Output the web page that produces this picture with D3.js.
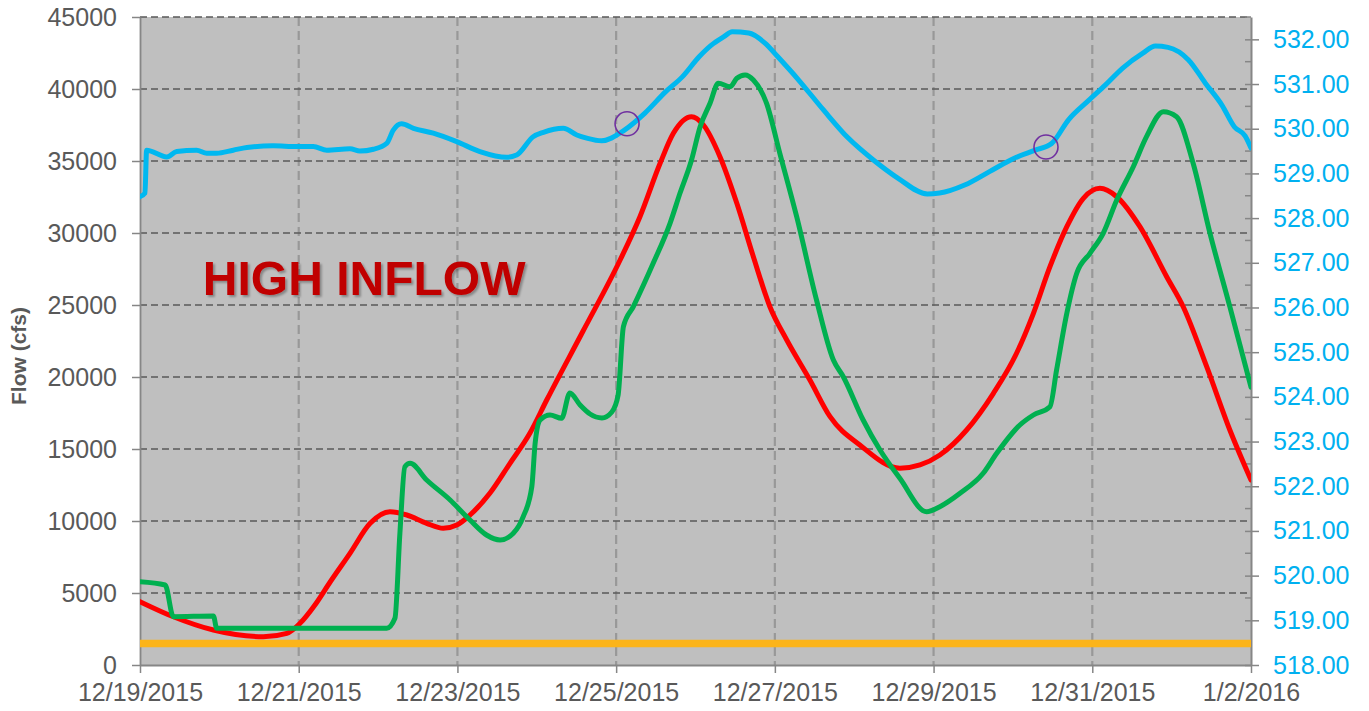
<!DOCTYPE html>
<html>
<head>
<meta charset="utf-8">
<script src="https://cdn.jsdelivr.net/npm/d3@7"></script>
<style>
  html, body { margin: 0; padding: 0; background: #ffffff; }
  svg { display: block; font-family: "Liberation Sans", Arial, sans-serif; }
</style>
</head>
<body>
<svg id="chart" width="1369" height="711"></svg>
<script>
// ---------------- DATA ----------------
const startDate = new Date(2015, 11, 19);
const endDate = new Date(2016, 0, 2);

const xTickDates = ["2015-12-19", "2015-12-21", "2015-12-23", "2015-12-25", "2015-12-27", "2015-12-29", "2015-12-31", "2016-01-02"];
const xTickLabels = ["12/19/2015", "12/21/2015", "12/23/2015", "12/25/2015", "12/27/2015", "12/29/2015", "12/31/2015", "1/2/2016"];
const leftTicks = [0, 5000, 10000, 15000, 20000, 25000, 30000, 35000, 40000, 45000];
const rightTicks = [518, 519, 520, 521, 522, 523, 524, 525, 526, 527, 528, 529, 530, 531, 532];
const rightMinorTicks = [518.5, 519.5, 520.5, 521.5, 522.5, 523.5, 524.5, 525.5, 526.5, 527.5, 528.5, 529.5, 530.5, 531.5, 532.5];

// Red series (flow, cfs) — hours since 12/19/2015 00:00
const inflowHours = [0, 10.1, 22.2, 37.3, 44.4, 48.4, 52.9, 57.5, 63.5, 69.6, 75.6, 80.7, 86.7, 91.7, 95.8, 99.8, 105.8, 111.9, 117.9, 123.0, 134.0, 145.2, 151.2, 157.3, 161.3, 166.8, 170.4, 175.4, 180.5, 185.5, 190.5, 195.6, 202.6, 208.7, 217.7, 229.8, 235.9, 241.9, 250.0, 258.1, 265.1, 270.2, 275.2, 280.3, 285.3, 290.3, 295.4, 302.4, 310.5, 315.5, 322.6, 329.6, 336];
const inflowValues = [4400, 3354, 2430, 1965, 2201, 2896, 4167, 5764, 7757, 9840, 10646, 10417, 9840, 9493, 9722, 10417, 11923, 14006, 16090, 18402, 23194, 28125, 31131, 34840, 36923, 38076, 37500, 35299, 32062, 28354, 24882, 22569, 19792, 17243, 15278, 13660, 13889, 14583, 16319, 18868, 21646, 24423, 27660, 30437, 32409, 33103, 32520, 30437, 26965, 24882, 20715, 16319, 12847];

// Green series (flow, cfs)
const outflowHours = [0, 7.6, 10.1, 22.2, 23.2, 48.4, 74.6, 77.1, 78.6, 80.1, 81.7, 86.7, 93.8, 99.8, 104.8, 108.9, 112.9, 115.9, 118.5, 119.5, 121.0, 124.0, 127.5, 130.0, 133.1, 136.1, 139.7, 142.7, 144.6, 146.2, 149.2, 155.2, 160.3, 163.3, 166.8, 169.4, 172.4, 174.9, 178.5, 180.5, 183.0, 185.5, 189.5, 193.5, 198.6, 204.6, 209.7, 212.7, 218.7, 223.8, 229.8, 237.9, 241.9, 248.0, 255.0, 259.1, 266.1, 270.2, 275.2, 277.2, 280.3, 283.3, 287.3, 291.3, 295.4, 300.4, 304.4, 309.5, 313.5, 318.5, 323.6, 329.6, 336];
const outflowValues = [5785, 5556, 3354, 3403, 2549, 2549, 2549, 3243, 9146, 13771, 14006, 12847, 11458, 10069, 9028, 8681, 9146, 10298, 12382, 15395, 17014, 17361, 17131, 18889, 18055, 17430, 17153, 17569, 18750, 23493, 24882, 27895, 30673, 32756, 35069, 37382, 39006, 40396, 40160, 40743, 40972, 40625, 39006, 35534, 31131, 25347, 21180, 20021, 17014, 14930, 12965, 10646, 10993, 11923, 13312, 14701, 16667, 17361, 17937, 20486, 24423, 27201, 28590, 29978, 32291, 34604, 36687, 38423, 38076, 34840, 29978, 24882, 19300];

// Blue series (elevation, right axis)
const elevHours = [0, 1.5, 2.0, 8.1, 11.1, 17.1, 20.2, 23.2, 28.2, 32.3, 40.3, 47.4, 52.4, 56.5, 63.5, 66.5, 70.6, 74.6, 76.6, 79.1, 82.7, 88.7, 95.8, 102.8, 110.9, 113.9, 118.9, 122.0, 128.0, 132.1, 135.1, 139.6, 146.5, 152.7, 159.0, 164.0, 169.1, 172.8, 176.6, 179.1, 184.1, 189.1, 192.9, 199.2, 206.7, 214.2, 221.8, 229.3, 238.1, 241.8, 249.4, 256.9, 264.4, 270.7, 275.7, 280.8, 287.0, 292.0, 297.1, 303.3, 307.1, 310.9, 317.1, 322.2, 327.2, 331.0, 334.2, 336];
const elevValues = [528.48, 528.56, 529.52, 529.37, 529.49, 529.52, 529.45, 529.45, 529.52, 529.58, 529.62, 529.60, 529.60, 529.52, 529.55, 529.50, 529.54, 529.67, 529.97, 530.11, 530.01, 529.90, 529.71, 529.49, 529.36, 529.41, 529.82, 529.92, 530.01, 529.86, 529.79, 529.73, 529.97, 530.35, 530.83, 531.16, 531.61, 531.87, 532.06, 532.17, 532.14, 531.91, 531.61, 531.09, 530.42, 529.79, 529.30, 528.89, 528.54, 528.56, 528.74, 529.04, 529.34, 529.52, 529.67, 530.20, 530.64, 530.98, 531.35, 531.69, 531.85, 531.82, 531.54, 531.02, 530.53, 530.04, 529.84, 529.57];

// Orange constant flow
const minFlowValue = 1500;

// Purple marker circles on the elevation line
const markerHours = [147.3, 274.0];
const markerElev = [530.11, 529.59];

const annotationText = "HIGH INFLOW";
const yLeftTitle = "Flow (cfs)";

// ---------------- CHART ----------------
const svg = d3.select("#chart");
const m = { left: 140, right: 1251, top: 17, bottom: 665 };
const toDate = h => new Date(startDate.getTime() + h * 3600e3);
const parse = d3.timeParse("%Y-%m-%d");

const x = d3.scaleTime().domain([startDate, endDate]).range([m.left, m.right]);
const yL = d3.scaleLinear().domain([0, 45000]).range([m.bottom, m.top]);
const yR = d3.scaleLinear().domain([518, 532.5]).range([m.bottom, m.top]);

const axisColor = "#868686";
const textColor = "#595959";
const fontSize = 25;

// plot background
svg.append("rect").attr("x", m.left).attr("y", m.top)
  .attr("width", m.right - m.left).attr("height", m.bottom - m.top)
  .attr("fill", "#bfbfbf");

// vertical gridlines
svg.append("g").selectAll("line").data(xTickDates.slice(1, -1)).join("line")
  .attr("x1", d => x(parse(d))).attr("x2", d => x(parse(d)))
  .attr("y1", m.top).attr("y2", m.bottom)
  .attr("stroke", "#989898").attr("stroke-width", 2.2).attr("stroke-dasharray", "9,5");

// horizontal gridlines
svg.append("g").selectAll("line").data(leftTicks.slice(1)).join("line")
  .attr("x1", m.left).attr("x2", m.right)
  .attr("y1", d => yL(d)).attr("y2", d => yL(d))
  .attr("stroke", "#5a5a5a").attr("stroke-width", 1.6).attr("stroke-dasharray", "7,4");

// left axis
const gL = svg.append("g").attr("transform", `translate(${m.left},0)`)
  .call(d3.axisLeft(yL).tickValues(leftTicks).tickSize(8).tickSizeOuter(0).tickPadding(15).tickFormat(d3.format("d")));
gL.select(".domain").attr("stroke", axisColor).attr("stroke-width", 1.8);
gL.selectAll(".tick line").attr("stroke", axisColor).attr("stroke-width", 1.5);
gL.selectAll(".tick text").attr("fill", textColor).attr("font-size", fontSize)
  .attr("font-family", "Liberation Sans, Arial, sans-serif");

// bottom axis
const gB = svg.append("g").attr("transform", `translate(0,${m.bottom})`)
  .call(d3.axisBottom(x).tickValues(xTickDates.map(parse)).tickSize(8).tickSizeOuter(0).tickPadding(10)
    .tickFormat((d, i) => xTickLabels[i]));
gB.select(".domain").attr("stroke", axisColor).attr("stroke-width", 1.8);
gB.selectAll(".tick line").attr("stroke", axisColor).attr("stroke-width", 1.5);
gB.selectAll(".tick text").attr("fill", textColor).attr("font-size", fontSize)
  .attr("font-family", "Liberation Sans, Arial, sans-serif");

// right axis
const gR = svg.append("g").attr("transform", `translate(${m.right},0)`)
  .call(d3.axisRight(yR).tickValues(rightTicks).tickSize(8).tickSizeOuter(0).tickPadding(14).tickFormat(d3.format(".2f")));
gR.select(".domain").attr("stroke", axisColor).attr("stroke-width", 2);
gR.selectAll(".tick line").attr("stroke", axisColor).attr("stroke-width", 1.5).attr("x1", -6);
gR.selectAll(".tick text").attr("fill", "#00b0f0").attr("font-size", fontSize)
  .attr("font-family", "Liberation Sans, Arial, sans-serif");
gR.append("g").selectAll("line").data(rightMinorTicks).join("line")
  .attr("x1", -6).attr("x2", 0).attr("y1", d => yR(d)).attr("y2", d => yR(d))
  .attr("stroke", axisColor).attr("stroke-width", 1.5);

// left title
svg.append("text")
  .attr("transform", `translate(26,${(m.top + m.bottom) / 2 + 15}) rotate(-90)`)
  .attr("text-anchor", "middle")
  .attr("font-size", 21).attr("font-weight", "bold").attr("fill", textColor)
  .text(yLeftTitle);

// orange line
svg.append("line")
  .attr("x1", m.left).attr("x2", m.right)
  .attr("y1", yL(minFlowValue)).attr("y2", yL(minFlowValue))
  .attr("stroke", "#fbb41a").attr("stroke-width", 7.5);

const clip = svg.append("clipPath").attr("id", "plotclip").append("rect")
  .attr("x", m.left).attr("y", m.top - 5).attr("width", m.right - m.left).attr("height", m.bottom - m.top + 10);

const lineL = d3.line().x(d => x(toDate(d[0]))).y(d => yL(d[1])).curve(d3.curveMonotoneX);
const lineR = d3.line().x(d => x(toDate(d[0]))).y(d => yR(d[1])).curve(d3.curveMonotoneX);

const plot = svg.append("g").attr("clip-path", "url(#plotclip)");

plot.append("path").datum(inflowHours.map((h, i) => [h, inflowValues[i]]))
  .attr("d", lineL).attr("fill", "none").attr("stroke", "#ff0000")
  .attr("stroke-width", 5).attr("stroke-linejoin", "round").attr("stroke-linecap", "round");

plot.append("path").datum(outflowHours.map((h, i) => [h, outflowValues[i]]))
  .attr("d", lineL).attr("fill", "none").attr("stroke", "#00b050")
  .attr("stroke-width", 5).attr("stroke-linejoin", "round").attr("stroke-linecap", "round");

plot.append("path").datum(elevHours.map((h, i) => [h, elevValues[i]]))
  .attr("d", lineR).attr("fill", "none").attr("stroke", "#00b8f0")
  .attr("stroke-width", 5).attr("stroke-linejoin", "round").attr("stroke-linecap", "round");

// marker circles
svg.append("g").selectAll("circle").data(markerHours).join("circle")
  .attr("cx", d => x(toDate(d))).attr("cy", (d, i) => yR(markerElev[i]))
  .attr("r", 12).attr("fill", "none").attr("stroke", "#7030a0").attr("stroke-width", 1.6);

// annotation
const defs = svg.append("defs");
const f = defs.append("filter").attr("id", "shadow").attr("x", "-5%").attr("y", "-5%").attr("width", "110%").attr("height", "120%");
f.append("feDropShadow").attr("dx", 2).attr("dy", 2).attr("stdDeviation", 1.2)
  .attr("flood-color", "#000").attr("flood-opacity", 0.3);

svg.append("text")
  .attr("x", x(toDate(19))).attr("y", yL(25660))
  .attr("font-size", 48).attr("font-weight", "bold").attr("fill", "#c00000")
  .attr("filter", "url(#shadow)")
  .text(annotationText);
</script>
</body>
</html>
